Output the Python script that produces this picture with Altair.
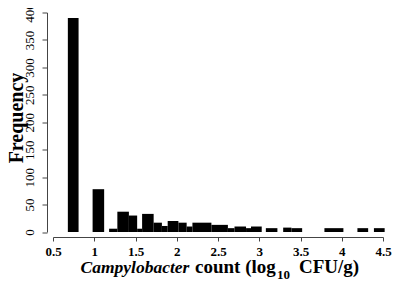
import altair as alt
import pandas as pd

# Histogram bins (log10 CFU/g) and their frequencies
bin_start = [0.68, 0.98, 1.18, 1.28, 1.42, 1.52, 1.58, 1.72, 1.82, 1.89, 2.02, 2.12,
             2.19, 2.42, 2.62, 2.70, 2.84, 2.90, 3.08, 3.29, 3.39, 3.79, 4.19, 4.39]
bin_end = [0.81, 1.12, 1.28, 1.42, 1.52, 1.58, 1.72, 1.82, 1.89, 2.02, 2.12, 2.19,
           2.42, 2.62, 2.70, 2.84, 2.90, 3.03, 3.22, 3.39, 3.52, 4.02, 4.32, 4.52]
frequency = [390, 78, 6, 37, 30, 6, 33, 17, 11, 20, 17, 10,
             17, 13, 7, 10, 7, 10, 7, 8, 7, 7, 7, 7]

x_ticks = [0.5, 1, 1.5, 2, 2.5, 3, 3.5, 4, 4.5]
y_ticks = [0, 50, 100, 150, 200, 250, 300, 350, 400]

df = pd.DataFrame({"start": bin_start, "end": bin_end, "freq": frequency})

FONT = "Liberation Serif"
AX = "#444444"

bars = alt.Chart(df).mark_rect(color="black").encode(
    x=alt.X("start:Q",
            scale=alt.Scale(domain=[0.5, 4.5], nice=False, zero=False, padding=0),
            axis=alt.Axis(values=x_ticks, format="~g", title=None, grid=False,
                          offset=5, tickSize=4, labelPadding=4,
                          labelFont=FONT, labelFontWeight="bold", labelFontSize=13,
                          labelColor="black", domainColor=AX, tickColor=AX,
                          labelFlush=False)),
    x2="end:Q",
    y=alt.Y("freq:Q",
            scale=alt.Scale(domain=[0, 400], nice=False, padding=0),
            axis=alt.Axis(values=y_ticks, title=None, grid=False,
                          offset=6, tickSize=5, labelPadding=6,
                          labelAngle=270, labelAlign="center", labelBaseline="bottom",
                          labelFont=FONT, labelFontSize=13, labelColor="black",
                          domainColor=AX, tickColor=AX, labelFlush=False)),
    y2=alt.datum(0),
)

def txt(s, x, y, size, style="normal", angle=0, align="left"):
    return alt.Chart(df.head(1)).mark_text(
        text=s, font=FONT, fontSize=size, fontWeight="bold", fontStyle=style,
        align=align, baseline="alphabetic", angle=angle, color="black"
    ).encode(x=alt.value(x), y=alt.value(y))

ytitle = txt("Frequency", -30.5, 105.5, 20, angle=270, align="center")
t1 = txt("Campylobacter", 27.5, 260.5, 17.5, style="italic")
t2 = txt("count (log", 142, 260.5, 19)
t3 = txt("10", 224, 266.5, 13)
t4 = txt("CFU/g)", 246, 260.5, 19)

chart = alt.layer(bars, ytitle, t1, t2, t3, t4).properties(
    width=330, height=219.5,
    autosize=alt.AutoSizeParams(type="none"),
    padding={"left": 45, "top": 4.5, "right": 9, "bottom": 49},
).configure_view(stroke=None)

chart.save("out.html", embed_options={"renderer": "svg", "actions": False})
